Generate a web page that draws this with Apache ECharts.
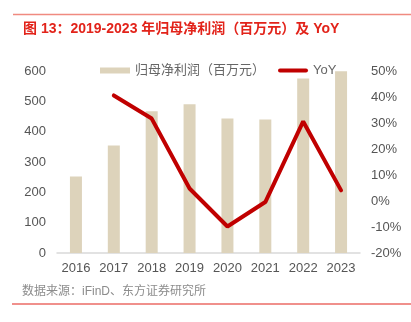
<!DOCTYPE html>
<html><head><meta charset="utf-8">
<script src="https://cdn.jsdelivr.net/npm/echarts@6/dist/echarts.min.js"></script>
<style>html,body{margin:0;padding:0;background:#fff}#c{width:411px;height:322px}</style>
</head><body><div id="c"></div>
<script>
const categories = ['2016','2017','2018','2019','2020','2021','2022','2023'];
const profit = [252, 354, 467, 490, 443, 440, 575, 599];
const yoy = [null, 40.6, 31.7, 4.8, -9.8, -0.4, 30.6, 4.1];
const leftTicks = {min: 0, max: 600, interval: 100};
const rightTicks = {min: -20, max: 50, interval: 10};
const titleText = '图 13：2019-2023 年归母净利润（百万元）及 YoY';
const sourceText = '数据来源：iFinD、东方证券研究所';

const chart = echarts.init(document.getElementById('c'), null, {renderer: 'canvas'});
const font = 'Liberation Sans, Arial, "Noto Sans CJK SC", sans-serif';
chart.setOption({
  animation: false,
  textStyle: {fontFamily: font},
  title: {text: titleText, left: 18, top: 17,
    textStyle: {color: '#e2231a', fontSize: 14, fontWeight: 'bold', fontFamily: font}},
  graphic: [
    {type: 'line', shape: {x1: 13, y1: 14.5, x2: 411, y2: 14.5}, style: {stroke: '#f08a80', lineWidth: 1.5}},
    {type: 'line', shape: {x1: 12, y1: 304, x2: 411, y2: 304}, style: {stroke: '#e2231a', lineWidth: 1.2}},
    {type: 'text', left: 22, top: 286, style: {text: sourceText, fill: '#8c8c8c', font: '12px ' + font}}
  ],
  legend: {top: 59, left: 95, itemWidth: 30, itemHeight: 6, itemGap: 13,
    textStyle: {color: '#666', fontSize: 13, fontFamily: font},
    data: [{name: '归母净利润（百万元）', icon: 'rect'},
           {name: 'YoY', icon: 'path://M2,0 L28,0 A2,2 0 0 1 28,4 L2,4 A2,2 0 0 1 2,0 Z'}]},
  grid: {left: 57, right: 51, top: 71, bottom: 69},
  xAxis: {type: 'category', data: categories,
    axisLine: {lineStyle: {color: '#d9d9d9', width: 1.5}}, axisTick: {show: false},
    axisLabel: {color: '#555', fontSize: 13, margin: 9}},
  yAxis: [
    {type: 'value', min: leftTicks.min, max: leftTicks.max, interval: leftTicks.interval,
      splitLine: {show: false}, axisLine: {show: false}, axisTick: {show: false},
      axisLabel: {color: '#555', fontSize: 13, margin: 11}},
    {type: 'value', min: rightTicks.min, max: rightTicks.max, interval: rightTicks.interval,
      splitLine: {show: false}, axisLine: {show: false}, axisTick: {show: false},
      axisLabel: {color: '#555', fontSize: 13, margin: 11, formatter: '{value}%'}}
  ],
  series: [
    {name: '归母净利润（百万元）', type: 'bar', data: profit, barWidth: 12,
      itemStyle: {color: '#ddd3bb'}},
    {name: 'YoY', type: 'line', yAxisIndex: 1, data: yoy, symbol: 'none',
      lineStyle: {color: '#c00000', width: 4, cap: 'round'}, itemStyle: {color: '#c00000'}}
  ]
});
</script></body></html>
